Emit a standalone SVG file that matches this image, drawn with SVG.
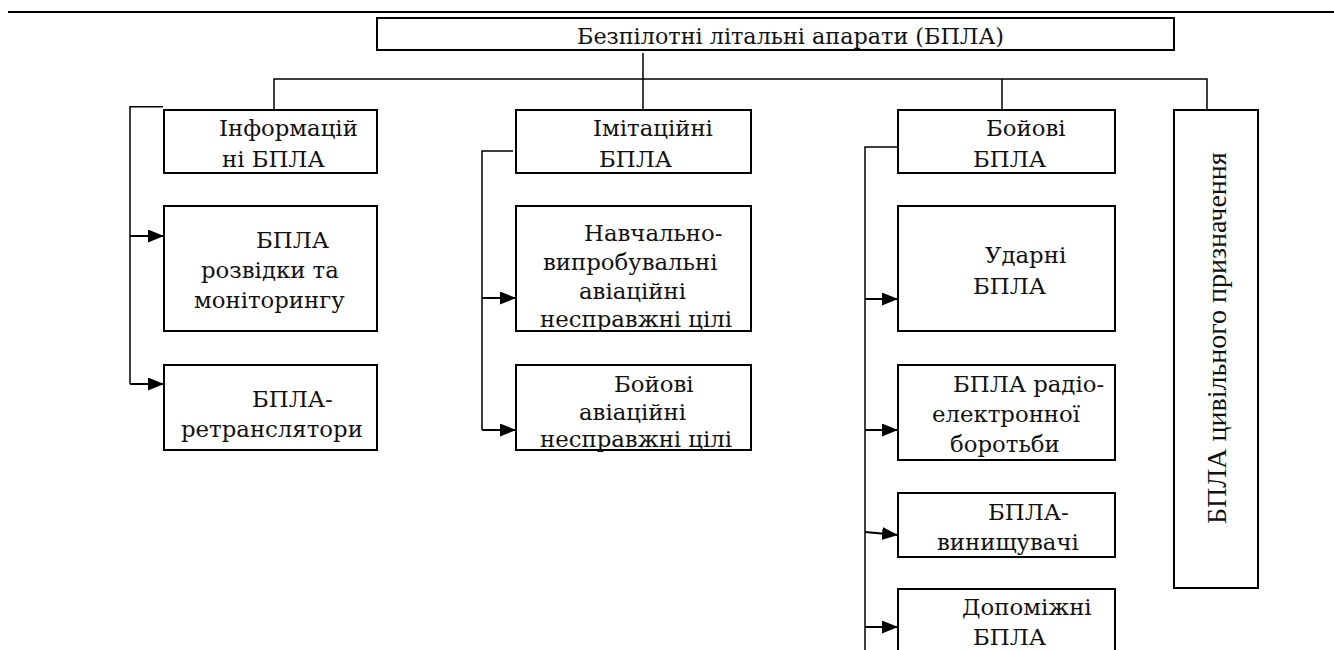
<svg xmlns="http://www.w3.org/2000/svg" width="1334" height="650" viewBox="0 0 1334 650">
<style>
.box{fill:#fff;stroke:#000;stroke-width:2}
.t{font-family:"DejaVu Serif","Liberation Serif",serif;font-size:22.8px;fill:#111}
.tt{font-family:"DejaVu Serif","Liberation Serif",serif;font-size:22.3px;fill:#111}
.rv{font-family:"Liberation Serif","Times New Roman",serif;font-size:28px;fill:#111}
.c{fill:none;stroke:#000;stroke-width:1.5}
.a{fill:none;stroke:#000;stroke-width:2.2;marker-end:url(#ah)}
</style>
<defs>
<marker id="ah" markerUnits="userSpaceOnUse" markerWidth="16" markerHeight="14" refX="16" refY="6.5" orient="auto">
<path d="M0,0 L16,6.5 L0,13 Z" fill="#000"/>
</marker>
</defs>
<rect width="1334" height="650" fill="#fff"/>
<line x1="8" y1="12" x2="1334" y2="12" stroke="#000" stroke-width="2.2"/>

<g id="connectors">
<path class="c" d="M643,53 V110"/>
<path class="c" d="M274,110 V79 H1207 V110"/>
<path class="c" d="M1002,79 V110"/>
<path class="c" d="M163,106.7 H130 V384"/>
<path class="c" d="M513,151 H482 V430"/>
<path class="c" d="M899,147 H865 V650"/>
<line class="a" x1="130" y1="236" x2="164" y2="236"/>
<line class="a" x1="130" y1="384" x2="164" y2="384"/>
<line class="a" x1="482" y1="298" x2="516" y2="298"/>
<line class="a" x1="482" y1="430" x2="516" y2="430"/>
<line class="a" x1="865" y1="299" x2="898" y2="299"/>
<line class="a" x1="865" y1="430" x2="898" y2="430"/>
<line class="a" x1="865" y1="532" x2="898" y2="535"/>
<line class="a" x1="865" y1="627" x2="898" y2="627"/>
</g>

<g id="root">
<rect class="box" x="377" y="18" width="797" height="32"/>
<text class="tt" x="577" y="44">Безпілотні літальні апарати (БПЛА)</text>
</g>

<g id="info">
<rect class="box" x="164" y="110" width="213" height="63"/>
<text class="t" x="219" y="136">Інформацій</text>
<text class="t" x="222" y="167">ні БПЛА</text>
</g>
<g id="recon">
<rect class="box" x="164" y="206" width="213" height="125"/>
<text class="t" x="256" y="248">БПЛА</text>
<text class="t" x="201" y="278">розвідки та</text>
<text class="t" x="194" y="308">моніторингу</text>
</g>
<g id="relay">
<rect class="box" x="164" y="365" width="213" height="85"/>
<text class="t" x="252" y="407">БПЛА-</text>
<text class="t" x="181" y="437">ретранслятори</text>
</g>

<g id="imit">
<rect class="box" x="516" y="110" width="235" height="63"/>
<text class="t" x="593" y="136">Імітаційні</text>
<text class="t" x="599" y="167">БПЛА</text>
</g>
<g id="training">
<rect class="box" x="516" y="206" width="235" height="125"/>
<text class="t" x="584" y="241">Навчально-</text>
<text class="t" x="543" y="270">випробувальні</text>
<text class="t" x="579" y="299">авіаційні</text>
<text class="t" x="540" y="327">несправжні цілі</text>
</g>
<g id="combatdecoy">
<rect class="box" x="516" y="365" width="235" height="85"/>
<text class="t" x="614" y="392">Бойові</text>
<text class="t" x="579" y="420">авіаційні</text>
<text class="t" x="540" y="447">несправжні цілі</text>
</g>

<g id="combat">
<rect class="box" x="898" y="110" width="217" height="63"/>
<text class="t" x="986" y="136">Бойові</text>
<text class="t" x="973" y="167">БПЛА</text>
</g>
<g id="strike">
<rect class="box" x="898" y="206" width="217" height="125"/>
<text class="t" x="985" y="263">Ударні</text>
<text class="t" x="973" y="294">БПЛА</text>
</g>
<g id="ew">
<rect class="box" x="898" y="365" width="217" height="95"/>
<text class="t" x="953" y="392">БПЛА радіо-</text>
<text class="t" x="932" y="422">електронної</text>
<text class="t" x="950" y="452">боротьби</text>
</g>
<g id="fighter">
<rect class="box" x="898" y="493" width="217" height="64"/>
<text class="t" x="988" y="520">БПЛА-</text>
<text class="t" x="937" y="550">винищувачі</text>
</g>
<g id="aux">
<rect class="box" x="898" y="589" width="217" height="80"/>
<text class="t" x="962" y="615">Допоміжні</text>
<text class="t" x="973" y="645">БПЛА</text>
</g>

<g id="civil">
<rect class="box" x="1174" y="110" width="84" height="478"/>
<text class="rv" transform="translate(1226,524) rotate(-90)" x="0" y="0">БПЛА цивільного призначення</text>
</g>
</svg>
